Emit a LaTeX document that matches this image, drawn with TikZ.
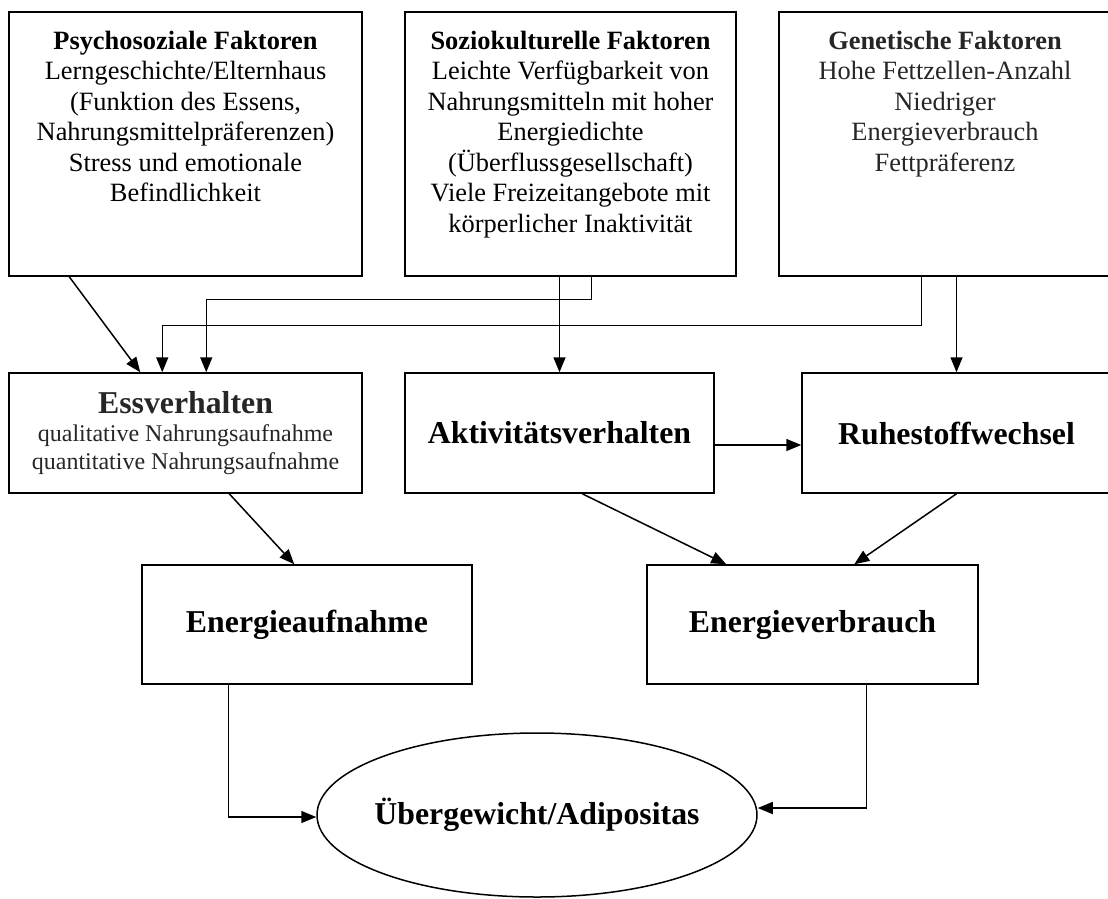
\documentclass[tikz,border=0pt]{standalone}
\usepackage{fontspec}
\setmainfont{Liberation Serif}
\usetikzlibrary{arrows.meta,shapes.geometric}

\tikzset{
  box/.style={draw, line width=1.5pt, rectangle, inner sep=0pt},
  arr/.style={line width=1.5pt, -{Triangle[length=15pt,width=12pt]}},
  big/.style={font=\fontsize{31.8}{36}\selectfont\bfseries},
}
\newcommand{\factorbox}[1]{\parbox[t][264pt][t]{320pt}{\centering\fontsize{26.4}{30.5}\selectfont\rule{0pt}{37pt}#1}}

\begin{document}
\begin{tikzpicture}[x=1pt,y=-1pt]
				\useasboundingbox (0,0) rectangle (1108,898);
				\clip (0,0) rectangle (1108,898);
				% Faktoren
				\node[box,minimum width=353pt,minimum height=264pt] (psy) at (185.5,144) {\factorbox{\textbf{Psychosoziale Faktoren}\\Lerngeschichte/Elternhaus\\(Funktion des Essens,\\Nahrungsmittelpräferenzen)\\Stress und emotionale\\Befindlichkeit}};
				\node[box,minimum width=331pt,minimum height=264pt] (soz) at (570.5,144) {\factorbox{\textbf{Soziokulturelle Faktoren}\\Leichte Verfügbarkeit von\\Nahrungsmitteln mit hoher\\Energiedichte\\(Überflussgesellschaft)\\Viele Freizeitangebote mit\\körperlicher Inaktivität}};
				\node[box,minimum width=332pt,minimum height=264pt,text=black!85] (gen) at (945,144) {\factorbox{\textbf{Genetische Faktoren}\\Hohe Fettzellen-Anzahl\\Niedriger\\Energieverbrauch\\Fettpräferenz}};
				% Verhalten
				\node[box,minimum width=353pt,minimum height=120pt,align=center,text=black!85,font=\fontsize{24}{28}\selectfont] (ess) at (185.5,433) {{\fontsize{31.8}{29}\selectfont\bfseries Essverhalten}\\qualitative Nahrungsaufnahme\\quantitative Nahrungsaufnahme};
				\node[box,big,minimum width=309pt,minimum height=120pt] (akt) at (559.5,433) {Aktivitätsverhalten};
				\node[box,big,minimum width=309pt,minimum height=120pt] (ruhe) at (956.5,433) {Ruhestoffwechsel};
				% Energie
				\node[box,big,minimum width=330pt,minimum height=119pt] (enA) at (307,624.5) {Energieaufnahme};
				\node[box,big,minimum width=331pt,minimum height=119pt] (enV) at (812.5,624.5) {Energieverbrauch};
				\node[draw,ellipse,big,line width=1.5pt,inner sep=0pt,minimum width=440pt,minimum height=164pt] (ueb) at (537,815) {\makebox[0pt]{Übergewicht/Adipositas}};
				\coordinate (aktR) at ([yshift=-12pt]akt.east);
				% Pfeile
				\draw[arr] ([xshift=61pt]psy.south west) -- ([xshift=132pt]ess.north west);
				\draw[arr] ([xshift=187pt]soz.south west) |- ([xshift=198pt,yshift=73pt]ess.north west) -- ([xshift=198pt]ess.north west);
				\draw[arr] ([xshift=143pt]gen.south west) |- ([xshift=154pt,yshift=47pt]ess.north west) -- ([xshift=154pt]ess.north west);
				\draw[arr] (akt.north |- soz.south) -- (akt.north);
				\draw[arr] (ruhe.north |- gen.south) -- (ruhe.north);
				\draw[arr] (aktR) -- (aktR -| ruhe.west);
				\draw[arr] ([xshift=221pt]ess.south west) -- ([xshift=153pt]enA.north west);
				\draw[arr] ([xshift=178pt]akt.south west) -- ([xshift=80pt]enV.north west);
				\draw[arr] (ruhe.south) -- ([xshift=208pt]enV.north west);
				\draw[arr] ([xshift=87pt]enA.south west) |- ([yshift=-2pt]ueb.west);
				\draw[arr] ([xshift=220pt]enV.south west) |- ([yshift=7pt]ueb.east);
\end{tikzpicture}
\end{document}
